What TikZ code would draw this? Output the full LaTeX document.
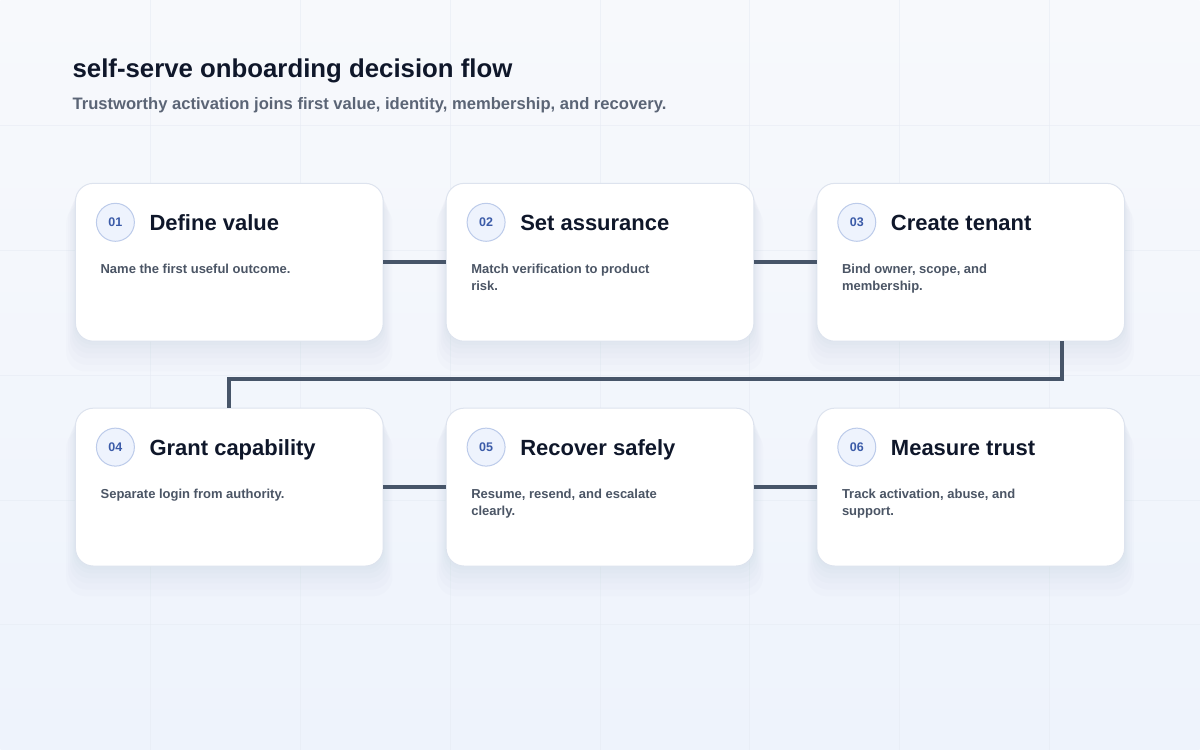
\documentclass[tikz,border=0pt]{standalone}
\usepackage{fontspec}
\setmainfont{Liberation Sans}
\usetikzlibrary{positioning,shadows}

\definecolor{bgtop}{HTML}{F7F9FC}
\definecolor{bgbot}{HTML}{EEF3FC}
\definecolor{gridc}{HTML}{E6EBF3}
\definecolor{ink}{HTML}{0F172A}
\definecolor{subink}{HTML}{5B6576}
\definecolor{bodyink}{HTML}{4B5565}
\definecolor{linkc}{HTML}{475569}
\definecolor{cardline}{HTML}{DDE3EE}
\definecolor{badgefill}{HTML}{EEF3FD}
\definecolor{badgeline}{HTML}{BCCBEA}
\definecolor{badgeink}{HTML}{3B5BA8}
\definecolor{shadowc}{HTML}{8A9AB8}

% two-line note, baseline on its first line
\newcommand{\notetwo}[2]{\vtop{\hbox{#1}\hbox{#2}}}

\tikzset{
  softshadow/.style = {drop shadow = {shadow xshift = 0pt, shadow yshift = -#1pt, shadow scale = 1+#1/400, opacity = 0.022, fill = shadowc}},
  card/.style = {draw = cardline, line width = 1pt, fill = white, rounded corners = 18pt,
    minimum width = 308pt, minimum height = 158pt, inner sep = 0pt, outer sep = 0pt,
    softshadow = 24, softshadow = 19, softshadow = 14, softshadow = 10, softshadow = 6, softshadow = 3},
  badge/.style = {circle, draw = badgeline, line width = 1pt, fill = badgefill, minimum size = 38pt,
    inner sep = 0pt, text = badgeink, font = \fontsize{12.5}{12}\selectfont\bfseries},
  steptitle/.style = {anchor = base west, inner sep = 0pt, text = ink, font = \fontsize{22}{26}\selectfont\bfseries},
  stepnote/.style = {anchor = base west, inner sep = 0pt, text = bodyink,
    font = \fontsize{13}{17}\selectfont\bfseries},
  link/.style = {draw = linkc, line width = 4pt}
}

\begin{document}
\begin{tikzpicture}[x = 1pt, y = -1pt]
% background
\shade[top color = bgtop, bottom color = bgbot] (0,0) rectangle (1200,750);
\foreach \gx in {150,300,...,1050} \draw[gridc, line width = 1pt, opacity = 0.55] (\gx,0) -- (\gx,750);
\foreach \gy in {125,250,...,625} \draw[gridc, line width = 1pt, opacity = 0.55] (0,\gy) -- (1200,\gy);
\useasboundingbox (0,0) rectangle (1200,750);

% heading
\node[anchor = base west, inner sep = 0pt, text = ink, font = \fontsize{25.8}{30}\selectfont\bfseries] (head) at (72,77) {self-serve onboarding decision flow};
\node[anchor = base west, inner sep = 0pt, text = subink, font = \fontsize{16.6}{20}\selectfont\bfseries] (subhead) at (72,109) {Trustworthy activation joins first value, identity, membership, and recovery.};

% cards
\node[card, anchor = north west] (c1) at (75,183) {};
\node[card, right = 63pt of c1] (c2) {};
\node[card, right = 63pt of c2] (c3) {};
\node[card, below = 67pt of c1] (c4) {};
\node[card, right = 63pt of c4] (c5) {};
\node[card, right = 63pt of c5] (c6) {};

% connectors
\draw[link] (c1.east) -- (c2.west);
\draw[link] (c2.east) -- (c3.west);
\draw[link] ([xshift = -63pt]c3.south east) -- ++(0,-38pt) -| (c4.north);
\draw[link] (c4.east) -- (c5.west);
\draw[link] (c5.east) -- (c6.west);

% card contents
\foreach \c/\num/\ttl/\note in {
  c1/01/Define value/{Name the first useful outcome.},
  c2/02/Set assurance/{\notetwo{Match verification to product}{risk.}},
  c3/03/Create tenant/{\notetwo{Bind owner, scope, and}{membership.}},
  c4/04/Grant capability/{Separate login from authority.},
  c5/05/Recover safely/{\notetwo{Resume, resend, and escalate}{clearly.}},
  c6/06/Measure trust/{\notetwo{Track activation, abuse, and}{support.}}} {
  \node[badge] (\c-num) at ([shift = {(40pt,-39pt)}]\c.north west) {\num};
  \node[steptitle] (\c-title) at ([shift = {(74pt,-47pt)}]\c.north west) {\ttl};
  \node[stepnote] (\c-note) at ([shift = {(25pt,-90pt)}]\c.north west) {\note};
}
\end{tikzpicture}
\end{document}
